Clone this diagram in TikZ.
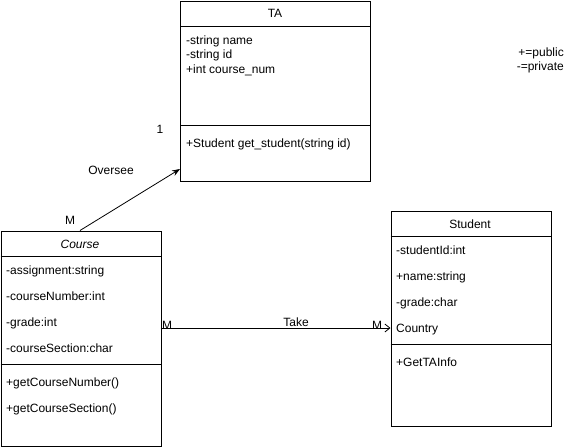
\documentclass[tikz,border=0pt]{standalone}
\usepackage{fontspec}
\setmainfont{Liberation Sans}
\usetikzlibrary{arrows.meta}
\begin{document}
\begin{tikzpicture}[x=1pt,y=-1pt,
  box/.style={draw,line width=0.8pt,fill=white},
  sep/.style={line width=0.8pt},
  txt/.style={anchor=west,inner sep=0pt,text height=8.5pt,text depth=3pt,yshift=-1.5pt,font=\fontsize{12}{14}\selectfont},
  ctxt/.style={inner sep=0pt,text height=8.5pt,text depth=3pt,yshift=-1.5pt,font=\fontsize{12}{14}\selectfont},
  conn/.style={line width=0.8pt}]
\useasboundingbox (0,0) rectangle (571,447);
% TA
\node[box,minimum width=190pt,minimum height=180pt,anchor=north west,inner sep=0pt] (ta) at (180,0.5) {};
\draw[sep] (180,26) -- (370,26);
\draw[sep] (180,125) -- (370,125);
\node[ctxt] (taT) at (275,13) {TA};
\node[txt] (ta1) at (186,40) {-string name};
\node[txt] (ta2) at (186,54) {-string id};
\node[txt] (ta3) at (186,69) {+int course\_num};
\node[txt] (ta4) at (186,143) {+Student get\_student(string id)};
% Course
\node[box,minimum width=160pt,minimum height=215pt,anchor=north west,inner sep=0pt] (course) at (0.5,230.5) {};
\draw[sep] (0.5,256) -- (160.5,256);
\draw[sep] (0.5,364) -- (160.5,364);
\node[ctxt,font=\fontsize{12}{14}\selectfont\itshape] (cT) at (80,244) {Course};
\node[txt] (c1) at (6,270) {-assignment:string};
\node[txt] (c2) at (6,296) {-courseNumber:int};
\node[txt] (c3) at (6,322) {-grade:int};
\node[txt] (c4) at (6,348) {-courseSection:char};
\node[txt] (c5) at (6,382) {+getCourseNumber()};
\node[txt] (c6) at (6,408) {+getCourseSection()};
% Student
\node[box,minimum width=160pt,minimum height=215pt,anchor=north west,inner sep=0pt] (student) at (390.5,210.5) {};
\draw[sep] (390.5,236) -- (550.5,236);
\draw[sep] (390.5,344) -- (550.5,344);
\node[ctxt] (sT) at (470,224) {Student};
\node[txt] (s1) at (396,250) {-studentId:int};
\node[txt] (s2) at (396,276) {+name:string};
\node[txt] (s3) at (396,302) {-grade:char};
\node[txt] (s4) at (396,328) {Country};
\node[txt] (s5) at (396,362) {+GetTAInfo};
% legend
\node[ctxt,anchor=east] (l1) at (564,52) {+=public};
\node[ctxt,anchor=east] (l2) at (564,66) {-=private};
% connectors
\coordinate (a1) at (80,230.5);
\coordinate (a2) at (180,169);
\draw[conn,-{Stealth[length=8pt,width=6pt]}] (a1) -- (a2);
\node[ctxt] (ov) at (111,170) {Oversee};
\node[ctxt] (one) at (160,129) {1};
\node[ctxt] (m1) at (70,220) {M};
\coordinate (b1) at (160.5,328);
\coordinate (b2) at (390.5,328);
\draw[conn,-{Straight Barb[length=5pt,width=8pt]}] (b1) -- (b2);
\node[ctxt] (take) at (296,322) {Take};
\node[ctxt] (m2) at (167,325) {M};
\node[ctxt] (m3) at (377,325) {M};
\end{tikzpicture}
\end{document}
